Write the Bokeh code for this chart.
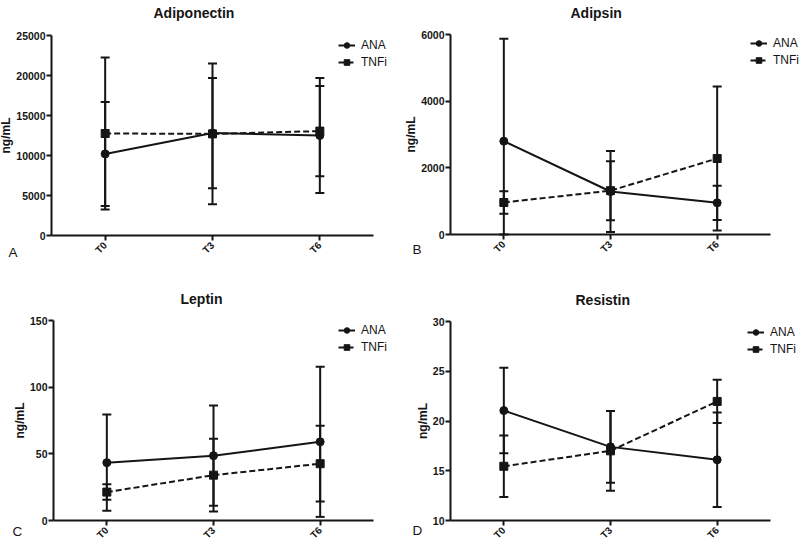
import math
from bokeh.plotting import figure
from bokeh.models import (ColumnDataSource, Whisker, TeeHead, Legend, LegendItem,
                          FixedTicker, Label, Range1d)
from bokeh.layouts import row, column
from bokeh.embed import file_html
from bokeh.resources import INLINE

categories = ["T0", "T3", "T6"]

adiponectin_ana_mean = [10200, 12800, 12500]
adiponectin_ana_sd = [6500, 6900, 7200]
adiponectin_tnfi_mean = [12750, 12700, 13050]
adiponectin_tnfi_sd = [9500, 8800, 5650]

adipsin_ana_mean = [2800, 1290, 950]
adipsin_ana_sd = [3070, 1215, 515]
adipsin_tnfi_mean = [960, 1315, 2280]
adipsin_tnfi_sd = [340, 885, 2160]

leptin_ana_mean = [43.4, 48.6, 59.0]
leptin_ana_sd = [36.1, 37.6, 56.3]
leptin_tnfi_mean = [21.3, 34.0, 42.6]
leptin_tnfi_sd = [5.8, 27.3, 28.4]

resistin_ana_mean = [21.05, 17.4, 16.1]
resistin_ana_sd = [4.3, 3.6, 4.75]
resistin_tnfi_mean = [15.45, 17.0, 21.97]
resistin_tnfi_sd = [3.1, 4.0, 2.17]

adiponectin_ticks = [0, 5000, 10000, 15000, 20000, 25000]
adipsin_ticks = [0, 2000, 4000, 6000]
leptin_ticks = [0, 50, 100, 150]
resistin_ticks = [10, 15, 20, 25, 30]

INK = "#151515"
FONT = "Liberation Sans"
W, H = 400, 272


def make_panel(title, letter, ana_m, ana_s, tnfi_m, tnfi_s, ticks,
               box, legend_px, title_px, letter_px):
    # box: pixel rectangle (left, top, right, bottom) of the axes area in the panel
    y0, y1 = ticks[0], ticks[-1]
    L, T, R, B = box
    ppx = (R - L) / 3.0
    upp = (y1 - y0) / float(B - T)
    x_start = -0.5 - L / ppx
    x_end = x_start + W / ppx
    y_end = y1 + T * upp
    y_start = y_end - H * upp

    def X(px):
        return x_start + px / ppx

    def Y(py):
        return y_end - py * upp

    p = figure(width=W, height=H, output_backend="svg", toolbar_location=None,
               x_range=Range1d(x_start, x_end), y_range=Range1d(y_start, y_end),
               min_border=0, min_border_left=0, min_border_right=0,
               min_border_top=0, min_border_bottom=0)
    p.outline_line_color = None
    p.grid.visible = False
    p.background_fill_color = "white"
    p.border_fill_color = "white"

    xs = list(range(len(categories)))

    # axes, pinned inside the plotting area
    p.xaxis.fixed_location = y0
    p.yaxis.fixed_location = -0.5
    p.xaxis.bounds = (-0.5, 2.5)
    p.yaxis.bounds = (y0, y1)
    p.xaxis.ticker = FixedTicker(ticks=xs)
    p.xaxis.major_label_overrides = {i: c for i, c in enumerate(categories)}
    p.xaxis.major_label_orientation = math.pi / 4
    p.yaxis.ticker = FixedTicker(ticks=ticks)
    for ax in (p.xaxis, p.yaxis):
        ax.axis_line_color = INK
        ax.axis_line_width = 2
        ax.major_tick_line_color = INK
        ax.major_tick_line_width = 2
        ax.major_tick_out = 5
        ax.major_tick_in = 0
        ax.minor_tick_line_color = None
        ax.major_label_text_font = FONT
        ax.major_label_text_font_style = "bold"
        ax.major_label_text_color = INK
    p.yaxis.major_label_text_font_size = "10.5px"
    p.yaxis.major_label_standoff = 1
    p.xaxis.major_label_text_font_size = "10px"
    p.xaxis.major_label_standoff = 3
    p.yaxis.axis_label = "ng/mL"
    p.yaxis.axis_label_text_font = FONT
    p.yaxis.axis_label_text_font_style = "bold"
    p.yaxis.axis_label_text_font_size = "12px"
    p.yaxis.axis_label_text_color = INK
    p.yaxis.axis_label_standoff = 0

    # error bars (the lower end stops at the axis, as in the original)
    for m, s in ((ana_m, ana_s), (tnfi_m, tnfi_s)):
        src = ColumnDataSource(dict(x=xs,
                                    upper=[a + b for a, b in zip(m, s)],
                                    lower=[max(a - b, y0) for a, b in zip(m, s)]))
        w = Whisker(base="x", upper="upper", lower="lower", source=src,
                    dimension="height", line_color=INK, line_width=2,
                    upper_head=TeeHead(size=9, line_color=INK, line_width=2),
                    lower_head=TeeHead(size=9, line_color=INK, line_width=2))
        p.add_layout(w)

    ana_line = p.line(xs, ana_m, line_color=INK, line_width=2)
    ana_pts = p.scatter(xs, ana_m, marker="circle", size=8, fill_color=INK, line_color=INK)
    tnfi_line = p.line(xs, tnfi_m, line_color=INK, line_width=2, line_dash="6 3")
    tnfi_pts = p.scatter(xs, tnfi_m, marker="square", size=8, fill_color=INK, line_color=INK)

    lx, lb = legend_px
    legend = Legend(items=[LegendItem(label="ANA", renderers=[ana_line, ana_pts]),
                           LegendItem(label="TNFi", renderers=[tnfi_line, tnfi_pts])],
                    location=(lx, H - lb), border_line_color=None,
                    background_fill_alpha=0, padding=0, margin=0, spacing=3,
                    glyph_width=17, glyph_height=14, label_height=14,
                    label_standoff=6, label_text_font=FONT,
                    label_text_font_size="12px", label_text_color=INK)
    p.add_layout(legend)

    tx, ty = title_px
    p.add_layout(Label(x=X(tx), y=Y(ty), text=title, text_font=FONT,
                       text_font_size="14px", text_font_style="bold",
                       text_baseline="middle", text_align="left", text_color=INK))
    ax_, ay_ = letter_px
    p.add_layout(Label(x=X(ax_), y=Y(ay_), text=letter, text_font=FONT,
                       text_font_size="13.5px", text_baseline="middle",
                       text_align="left", text_color=INK))
    return p


pa = make_panel("Adiponectin", "A", adiponectin_ana_mean, adiponectin_ana_sd,
                adiponectin_tnfi_mean, adiponectin_tnfi_sd, adiponectin_ticks,
                (51, 35, 373, 235), (338, 69), (153, 12), (8, 252))
pb = make_panel("Adipsin", "B", adipsin_ana_mean, adipsin_ana_sd,
                adipsin_tnfi_mean, adipsin_tnfi_sd, adipsin_ticks,
                (50, 34, 370, 234), (350, 67), (170, 12), (12, 249))
pc = make_panel("Leptin", "C", leptin_ana_mean, leptin_ana_sd,
                leptin_tnfi_mean, leptin_tnfi_sd, leptin_ticks,
                (53, 48, 373, 248), (338, 82), (180, 26), (12, 259))
pd_ = make_panel("Resistin", "D", resistin_ana_mean, resistin_ana_sd,
                 resistin_tnfi_mean, resistin_tnfi_sd, resistin_ticks,
                 (50, 49, 370, 248), (347, 84), (175, 27), (12, 258))

layout = column(row(pa, pb), row(pc, pd_))
open("out.html", "w").write(file_html(layout, INLINE))
